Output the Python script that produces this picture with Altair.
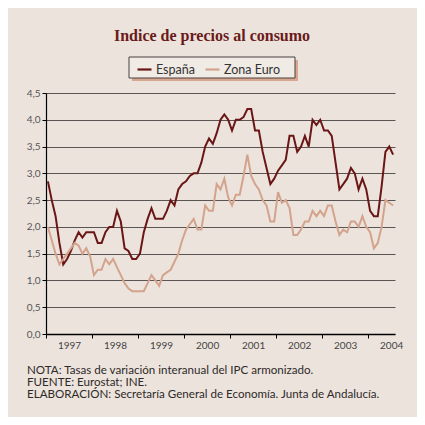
import altair as alt
import pandas as pd

# Monthly year-on-year HICP rates (%), Jan 1997 - Jul 2004
spain = [
    2.85, 2.5, 2.2, 1.7, 1.3, 1.4, 1.55, 1.75, 1.9, 1.8, 1.9, 1.9,      # 1997
    1.9, 1.7, 1.7, 1.9, 2.0, 2.0, 2.3, 2.1, 1.6, 1.55, 1.4, 1.4,        # 1998
    1.5, 1.9, 2.15, 2.35, 2.15, 2.15, 2.15, 2.3, 2.5, 2.4, 2.7, 2.8,    # 1999
    2.85, 2.95, 3.0, 3.0, 3.2, 3.5, 3.65, 3.55, 3.75, 4.0, 4.1, 4.0,    # 2000
    3.8, 4.0, 4.0, 4.05, 4.2, 4.2, 3.8, 3.8, 3.4, 3.1, 2.8, 2.9,        # 2001
    3.05, 3.15, 3.25, 3.7, 3.7, 3.4, 3.5, 3.7, 3.5, 4.0, 3.9, 4.0,      # 2002
    3.8, 3.8, 3.7, 3.2, 2.7, 2.8, 2.9, 3.1, 3.0, 2.7, 2.9, 2.7,         # 2003
    2.3, 2.2, 2.2, 2.75, 3.4, 3.5, 3.35,                                # 2004
]
euro = [
    2.0, 1.75, 1.5, 1.3, 1.4, 1.5, 1.6, 1.7, 1.65, 1.5, 1.6, 1.45,      # 1997
    1.1, 1.2, 1.2, 1.4, 1.3, 1.4, 1.25, 1.1, 0.95, 0.85, 0.8, 0.8,      # 1998
    0.8, 0.8, 0.95, 1.1, 1.0, 0.9, 1.1, 1.15, 1.2, 1.35, 1.5, 1.75,     # 1999
    1.95, 2.05, 2.15, 1.95, 1.95, 2.4, 2.3, 2.3, 2.8, 2.7, 2.9, 2.55,   # 2000
    2.4, 2.6, 2.6, 2.95, 3.35, 2.95, 2.8, 2.7, 2.5, 2.4, 2.1, 2.1,      # 2001
    2.65, 2.45, 2.5, 2.35, 1.85, 1.85, 1.95, 2.1, 2.1, 2.3, 2.2, 2.3,   # 2002
    2.2, 2.4, 2.4, 2.1, 1.85, 1.95, 1.9, 2.1, 2.1, 2.0, 2.2, 2.0,       # 2003
    1.9, 1.6, 1.7, 2.0, 2.5, 2.45, 2.4,                                 # 2004
]
series_names = ["España", "Zona Euro"]
series_colors = ["#6b1616", "#d3a38c"]
years = [1997, 1998, 1999, 2000, 2001, 2002, 2003, 2004]
y_ticks = [0.0, 0.5, 1.0, 1.5, 2.0, 2.5, 3.0, 3.5, 4.0, 4.5]

title_text = "Indice de precios al consumo"
footer_lines = [
    "NOTA: Tasas de variación interanual del IPC armonizado.",
    "FUENTE: Eurostat; INE.",
    "ELABORACIÓN: Secretaría General de Economía. Junta de Andalucía.",
]

rows = []
for name, vals in zip(series_names, [spain, euro]):
    for m, v in enumerate(vals):
        rows.append({"t": years[0] + (m + 0.5) / 12.0, "valor": v, "serie": name})
df = pd.DataFrame(rows)

BG = "#ece3dd"
W, H = 349, 241

lines = alt.Chart(df).mark_line(strokeWidth=2).encode(
    x=alt.X("t:Q",
            scale=alt.Scale(domain=[1997, 2004.583], nice=False, zero=False),
            axis=alt.Axis(values=years, format="d", title=None, grid=False,
                          tickSize=4, tickColor="#000", domainColor="#000",
                          domainWidth=1.5, labelOffset=23, labelPadding=2,
                          labelFont="Lato", labelFontSize=10, labelColor="#444",
                          labelFlush=False, labelOverlap=False)),
    y=alt.Y("valor:Q",
            scale=alt.Scale(domain=[0, 4.5], nice=False),
            axis=alt.Axis(values=y_ticks, title=None, grid=True,
                          gridColor="#5a5552", gridWidth=1,
                          labelExpr="replace(format(datum.value, '.1f'), '.', ',')",
                          tickSize=4, tickColor="#000", domainColor="#000",
                          domainWidth=1.2, labelPadding=2,
                          labelFont="Lato", labelFontSize=10, labelColor="#555")),
    color=alt.Color("serie:N",
                    scale=alt.Scale(domain=series_names, range=series_colors),
                    legend=alt.Legend(title=None, orient="none", direction="horizontal",
                                      legendX=90, legendY=-32, columns=2,
                                      columnPadding=6, symbolType="stroke",
                                      symbolStrokeWidth=2.2, symbolSize=196,
                                      labelFont="Lato", labelFontSize=12.5,
                                      labelColor="#333", labelOffset=3,
                                      padding=0)),
)

one = pd.DataFrame({"a": [0]})
shadow = alt.Chart(one).mark_rect(color="#d9a690").encode(
    x=alt.value(86), x2=alt.value(252), y=alt.value(-33), y2=alt.value(-12))
box = alt.Chart(one).mark_rect(fill="#f1ebe6", stroke="#4a4040", strokeWidth=1).encode(
    x=alt.value(83), x2=alt.value(249), y=alt.value(-36), y2=alt.value(-15))

title = alt.Chart(pd.DataFrame({"txt": [title_text]})).mark_text(
    font="Liberation Serif", fontWeight="bold", fontSize=16, color="#6b1a1a",
    align="center", baseline="alphabetic").encode(
    text="txt:N", x=alt.value(166), y=alt.value(-52))

footers = []
for i, line in enumerate(footer_lines):
    footers.append(alt.Chart(pd.DataFrame({"txt": [line]})).mark_text(
        font="Lato", fontSize=11.6, color="#2e2a28", align="left",
        baseline="alphabetic").encode(
        text="txt:N", x=alt.value(-19), y=alt.value(281 + 12 * i)))

chart = alt.layer(shadow, box, lines, title, *footers).properties(
    width=W, height=H,
    autosize=alt.AutoSizeParams(type="none"),
    padding={"left": 38, "top": 85, "right": 22, "bottom": 83},
    background=BG,
).configure_view(stroke=None)

chart.save("out.html", embed_options={"renderer": "svg", "actions": False})
